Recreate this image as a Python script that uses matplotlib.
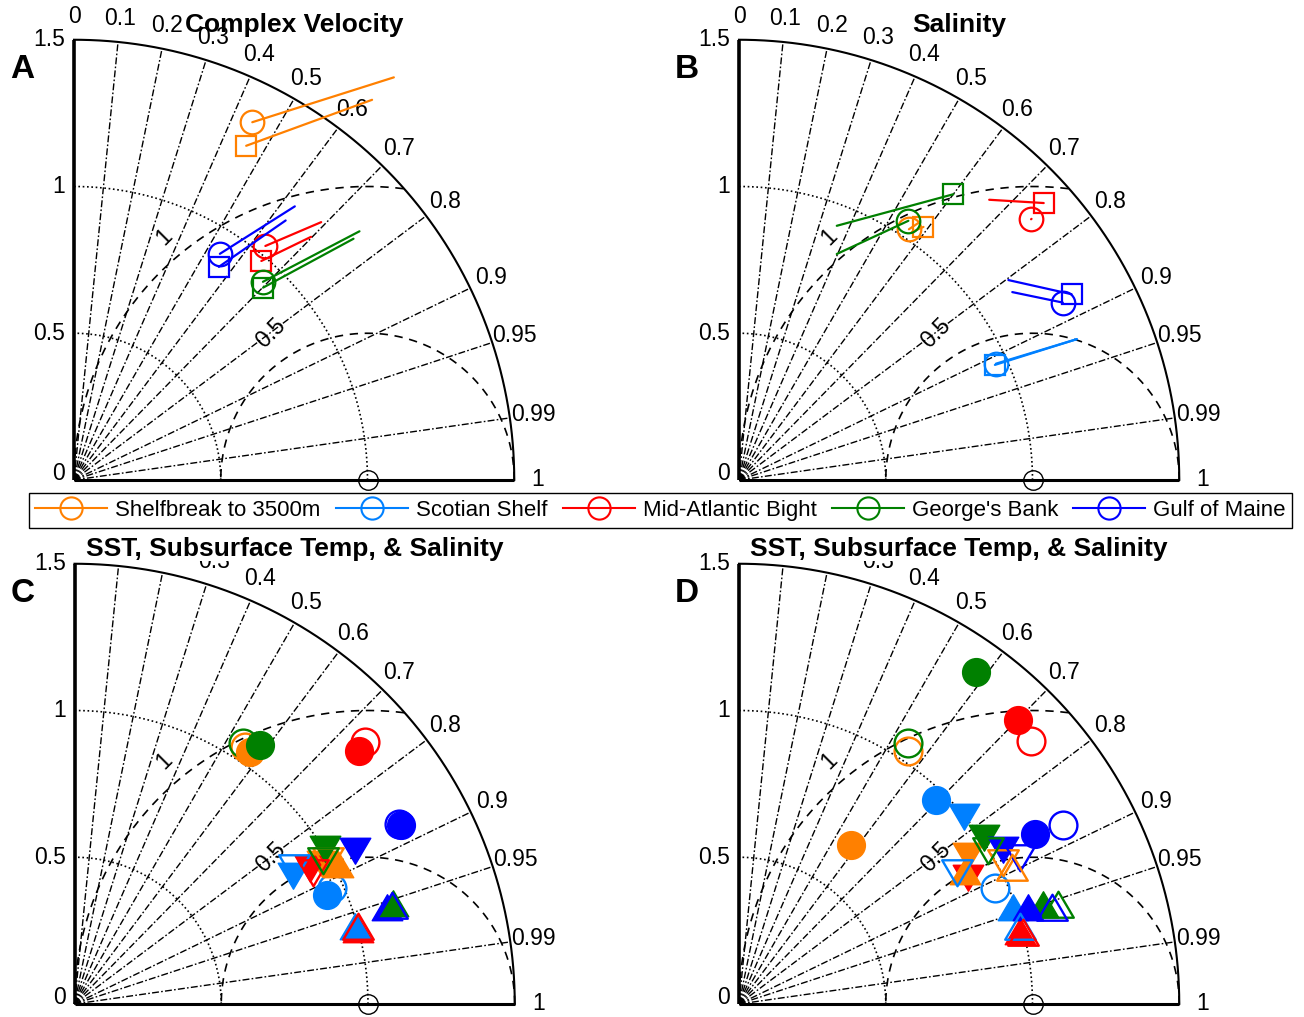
import numpy as np
import matplotlib
matplotlib.use('Agg')
import matplotlib.pyplot as plt
from matplotlib.lines import Line2D
from matplotlib.path import Path

plt.rcParams['font.family'] = ['Liberation Sans', 'DejaVu Sans']

nan = np.nan
W, H = 1304, 1017
SCALE = 293.5  # px per std unit

# ---------------- data ----------------
regions = ['Shelfbreak to 3500m', 'Scotian Shelf', 'Mid-Atlantic Bight', "George's Bank", 'Gulf of Maine']
colors = ['#FF8000', '#0080FF', '#FF0000', '#008000', '#0000FF']

corr_ticks = [0.1, 0.2, 0.3, 0.4, 0.5, 0.6, 0.7, 0.8, 0.9, 0.95, 0.99]
corr_labels_top = [0, 0.1, 0.2, 0.3, 0.4, 0.5, 0.6, 0.7, 0.8, 0.9, 0.95, 0.99, 1]
corr_labels_bottom = [0.3, 0.4, 0.5, 0.6, 0.7, 0.8, 0.9, 0.95, 0.99, 1]
std_ticks = [0, 0.5, 1, 1.5]
std_arcs = [0.5, 1.0]
rms_levels = [0.5, 1.0]

titles = ['Complex Velocity', 'Salinity',
          'SST, Subsurface Temp, & Salinity', 'SST, Subsurface Temp, & Salinity']
panel_letters = ['A', 'B', 'C', 'D']

# Panel A (circles / squares with lines to end points)
a_circ_std = [1.362, nan, 1.030, 0.933, 0.917]
a_circ_cor = [0.446, nan, 0.633, 0.690, 0.542]
a_circ_end_std = [1.752, nan, 1.217, 1.290, 1.198]
a_circ_end_cor = [0.622, nan, 0.692, 0.754, 0.628]
a_sq_std = [1.281, nan, 0.982, 0.919, 0.878]
a_sq_cor = [0.458, nan, 0.650, 0.701, 0.562]
a_sq_end_std = [1.646, nan, 1.157, 1.258, 1.141]
a_sq_end_cor = [0.617, nan, 0.698, 0.757, 0.632]

# Panel B
b_circ_std = [1.032, 0.961, 1.334, 1.055, 1.258]
b_circ_cor = [0.561, 0.911, 0.746, 0.547, 0.877]
b_circ_end_std = [1.074, 1.247, 1.336, 0.839, 1.130]
b_circ_end_cor = [0.574, 0.923, 0.746, 0.397, 0.824]
b_sq_std = [1.067, 0.956, 1.403, 1.217, 1.298]
b_sq_cor = [0.589, 0.912, 0.740, 0.600, 0.873]
b_sq_end_std = [1.030, 1.247, 1.280, 0.928, 1.143]
b_sq_end_cor = [0.572, 0.923, 0.666, 0.359, 0.803]

# Panel C (circle = SST, down triangle = subsurface temp, up triangle = salinity)
c_sst_fill_std = [1.047, 0.936, 1.298, 1.085, 1.268]
c_sst_fill_cor = [0.571, 0.918, 0.747, 0.582, 0.876]
c_sst_open_std = [1.052, 0.961, 1.334, 1.058, 1.265]
c_sst_open_cor = [0.552, 0.912, 0.742, 0.543, 0.874]
c_sub_fill_std = [0.970, 0.866, 0.926, 1.004, 1.091]
c_sub_fill_cor = [0.869, 0.861, 0.866, 0.849, 0.876]
c_sub_open_std = [0.994, 0.881, 0.929, 0.980, nan]
c_sub_open_cor = [0.870, 0.847, 0.875, 0.865, nan]
c_sal_fill_std = [1.016, 0.990, 0.999, 1.139, 1.113]
c_sal_fill_cor = [0.885, 0.964, 0.968, 0.954, 0.956]
c_sal_open_std = [nan, nan, 1.000, nan, 1.131]
c_sal_open_cor = [nan, nan, 0.965, nan, 0.955]

# Panel D
d_sst_fill_std = [0.663, 0.966, 1.358, 1.388, 1.163]
d_sst_fill_cor = [0.576, 0.695, 0.701, 0.581, 0.867]
d_sst_open_std = [1.036, 0.957, 1.337, 1.059, 1.262]
d_sst_open_cor = [0.557, 0.911, 0.743, 0.545, 0.876]
d_sub_fill_std = [0.932, 1.000, 0.893, 1.010, 1.045]
d_sub_fill_cor = [0.838, 0.767, 0.874, 0.826, 0.862]
d_sub_open_std = [1.021, 0.868, nan, 0.998, 1.081]
d_sub_open_cor = [0.880, 0.855, nan, 0.851, 0.886]
d_sal_fill_std = [0.892, 0.990, 0.988, 1.090, 1.038]
d_sal_fill_cor = [0.863, 0.944, 0.969, 0.951, 0.949]
d_sal_open_std = [1.038, 0.992, 0.998, 1.139, 1.114]
d_sal_open_cor = [0.895, 0.964, 0.970, 0.955, 0.956]

# ---------------- helpers ----------------
def to_xy(std, cor):
    std = np.asarray(std, float)
    cor = np.asarray(cor, float)
    return std * cor, std * np.sqrt(np.clip(1 - cor ** 2, 0, None))

tri_up = Path([(-1, -0.8), (1, -0.8), (0, 0.9), (-1, -0.8)],
              [Path.MOVETO, Path.LINETO, Path.LINETO, Path.CLOSEPOLY])
tri_dn = Path([(-1, 0.8), (1, 0.8), (0, -0.9), (-1, 0.8)],
              [Path.MOVETO, Path.LINETO, Path.LINETO, Path.CLOSEPOLY])

fig = plt.figure(figsize=(W / 100, H / 100), dpi=100)

def make_ax(ox, oy):
    ax = fig.add_axes([ox / W, (H - oy) / H, 1.5 * SCALE / W, 1.5 * SCALE / H])
    ax.set_xlim(0, 1.5)
    ax.set_ylim(0, 1.5)
    ax.axis('off')
    return ax

def draw_taylor(ax, title, letter, corr_labels, title_box):
    rmax = 1.5
    th = np.linspace(0, np.pi / 2, 300)
    # correlation rays
    for c in corr_ticks:
        t = np.arccos(c)
        ax.plot([0, rmax * np.cos(t)], [0, rmax * np.sin(t)], color='k', lw=1.0,
                dashes=(5, 1.6, 1.2, 1.6), clip_on=False, zorder=1)
    # std arcs (dotted)
    for r in std_arcs:
        ax.plot(r * np.cos(th), r * np.sin(th), color='k', lw=1.2, ls=(0, (1, 1.6)),
                clip_on=False, zorder=1)
    # RMS contours (dashed)
    tt = np.linspace(0, np.pi, 600)
    for R in rms_levels:
        x = 1 + R * np.cos(tt)
        y = R * np.sin(tt)
        m = x ** 2 + y ** 2 <= rmax ** 2 + 1e-9
        ax.plot(x[m], y[m], color='k', lw=1.2, dashes=(5, 4), clip_on=False, zorder=1)
    # RMS labels
    for R, ang, off in zip(rms_levels, [123.5, 130.0], [0.10, 0.08]):
        a = np.deg2rad(ang)
        ax.text(1 + (R + off) * np.cos(a), (R + off) * np.sin(a), f'{R:g}',
                rotation=45, ha='center', va='center', fontsize=16.5, zorder=2)
    # outer arc and axes
    ax.plot(rmax * np.cos(th), rmax * np.sin(th), color='k', lw=1.5, clip_on=False, zorder=2)
    ax.plot([0, 0], [0, rmax], color='k', lw=2.6, clip_on=False, zorder=2, solid_capstyle='butt')
    ax.plot([0, rmax], [0, 0], color='k', lw=2.2, clip_on=False, zorder=2, solid_capstyle='butt')
    # correlation labels
    for c in corr_labels:
        t = np.arccos(c)
        ax.text(1.58 * np.cos(t), 1.58 * np.sin(t), f'{c:g}', ha='center', va='center',
                fontsize=16.5, zorder=3)
    # std labels
    for s in std_ticks:
        ax.text(-0.03, s + (0.022 if s == 0 else 0), f'{s:g}', ha='right', va='center',
                fontsize=16.5, zorder=3)
    # reference point
    ax.plot([1], [0], marker='o', ms=14, mfc='none', mec='k', mew=1.0, clip_on=False, zorder=4)
    # title and letter
    kw = dict(ha='center', va='center', fontsize=19, weight='bold', zorder=10)
    if title_box:
        kw['bbox'] = dict(facecolor='white', edgecolor='none', pad=0.0)
    ax.text(0.75, 1.55, title, **kw)
    ax.text(-0.177, 1.397, letter, ha='center', va='center', fontsize=24, weight='bold', zorder=10)


def draw_lines_panel(ax, cs, cc, ces, cec, ss, sc, ses, sec):
    cx, cy = to_xy(cs, cc)
    cex, cey = to_xy(ces, cec)
    sx, sy = to_xy(ss, sc)
    sex, sey = to_xy(ses, sec)
    for i, col in enumerate(colors):
        if np.isfinite(cx[i]):
            ax.plot([cx[i], cex[i]], [cy[i], cey[i]], color=col, lw=1.6, clip_on=False,
                    solid_capstyle='round', zorder=5)
            ax.plot([cx[i]], [cy[i]], marker='o', ms=17, mfc='none', mec=col, mew=1.6,
                    clip_on=False, zorder=5)
        if np.isfinite(sx[i]):
            ax.plot([sx[i], sex[i]], [sy[i], sey[i]], color=col, lw=1.6, clip_on=False,
                    solid_capstyle='round', zorder=5)
            ax.plot([sx[i]], [sy[i]], marker='s', ms=14.5, mfc='none', mec=col, mew=1.6,
                    clip_on=False, zorder=5)


def draw_marker_panel(ax, sf_s, sf_c, so_s, so_c, uf_s, uf_c, uo_s, uo_c, af_s, af_c, ao_s, ao_c,
                      up_fill_order):
    fwd = list(range(len(colors)))
    groups = [
        (so_s, so_c, 'o', False, 20, fwd),
        (sf_s, sf_c, 'o', True, 20, fwd),
        (uf_s, uf_c, tri_dn, True, 22, fwd),
        (af_s, af_c, tri_up, True, 22, up_fill_order),
        (uo_s, uo_c, tri_dn, False, 22, fwd),
        (ao_s, ao_c, tri_up, False, 22, fwd),
    ]
    z = 5
    for s, c, mk, filled, ms, order in groups:
        x, y = to_xy(s, c)
        for i in order:
            col = colors[i]
            if not np.isfinite(x[i]):
                continue
            ax.plot([x[i]], [y[i]], marker=mk, ms=ms,
                    mfc=col if filled else 'none', mec=col, mew=1.0 if filled else 1.7,
                    clip_on=False, zorder=z, ls='none')
            z += 0.01


origins = [(74, 480), (739, 480), (74.5, 1004), (739, 1004)]
label_sets = [corr_labels_top, corr_labels_top, corr_labels_bottom, corr_labels_bottom]
title_boxes = [False, False, True, True]
axes = [make_ax(ox, oy) for ox, oy in origins]
for ax, t, l, cl, tb in zip(axes, titles, panel_letters, label_sets, title_boxes):
    draw_taylor(ax, t, l, cl, tb)

draw_lines_panel(axes[0], a_circ_std, a_circ_cor, a_circ_end_std, a_circ_end_cor,
                 a_sq_std, a_sq_cor, a_sq_end_std, a_sq_end_cor)
draw_lines_panel(axes[1], b_circ_std, b_circ_cor, b_circ_end_std, b_circ_end_cor,
                 b_sq_std, b_sq_cor, b_sq_end_std, b_sq_end_cor)
draw_marker_panel(axes[2], c_sst_fill_std, c_sst_fill_cor, c_sst_open_std, c_sst_open_cor,
                  c_sub_fill_std, c_sub_fill_cor, c_sub_open_std, c_sub_open_cor,
                  c_sal_fill_std, c_sal_fill_cor, c_sal_open_std, c_sal_open_cor,
                  [4, 3, 2, 1, 0])
draw_marker_panel(axes[3], d_sst_fill_std, d_sst_fill_cor, d_sst_open_std, d_sst_open_cor,
                  d_sub_fill_std, d_sub_fill_cor, d_sub_open_std, d_sub_open_cor,
                  d_sal_fill_std, d_sal_fill_cor, d_sal_open_std, d_sal_open_cor,
                  [0, 1, 2, 3, 4])

# legend
handles = [Line2D([], [], color=c, lw=1.5, marker='o', ms=16, mfc='none', mec=c, mew=1.5)
           for c in colors]
leg = fig.legend(handles, regions, loc='center', bbox_to_anchor=(660.5 / W, 1 - 510.5 / H),
                 ncol=5, fontsize=16, frameon=True, fancybox=False, edgecolor='black',
                 handlelength=3.24, handletextpad=0.36, columnspacing=0.68, borderpad=0.3,
                 framealpha=1)
leg.get_frame().set_linewidth(1.0)

fig.savefig('out.png', dpi=100)
